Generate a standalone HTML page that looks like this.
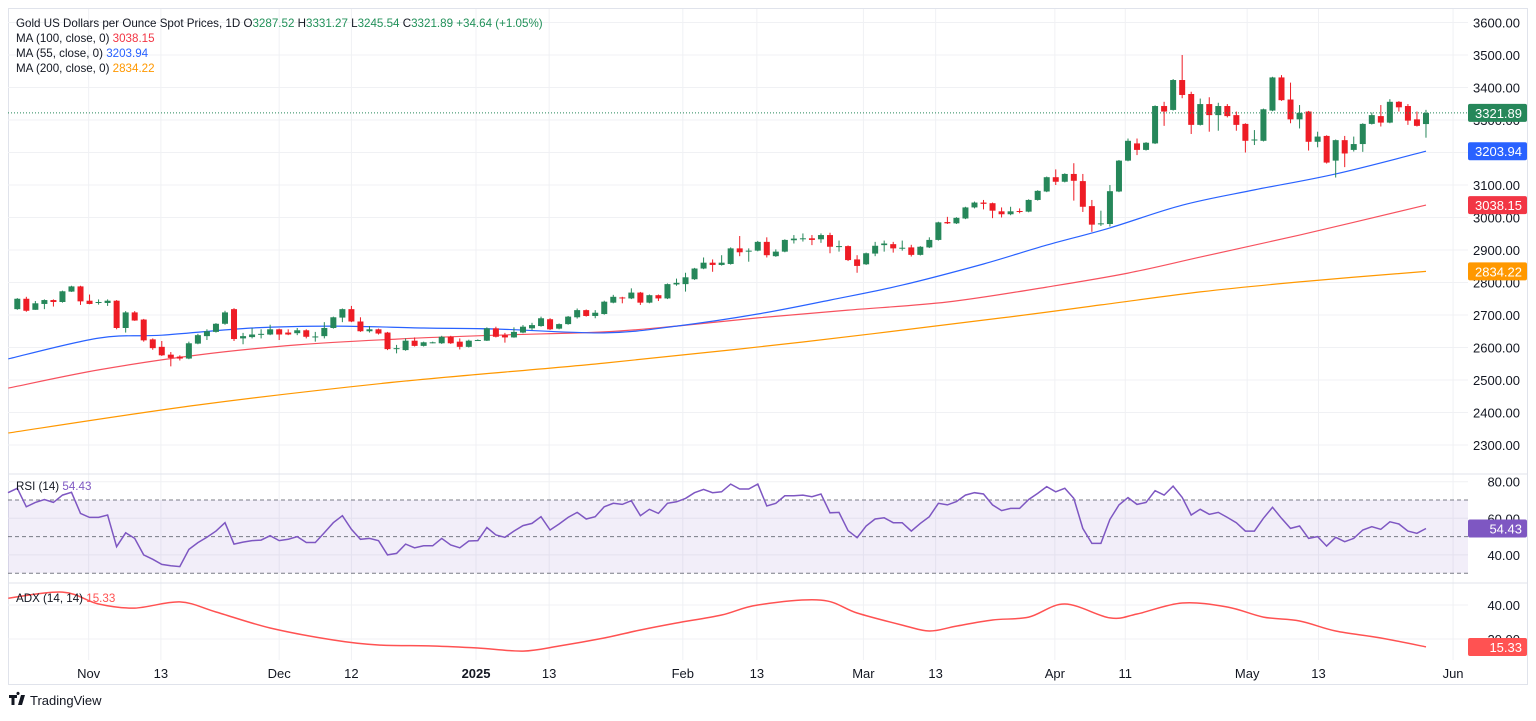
<!DOCTYPE html>
<html><head><meta charset="utf-8">
<style>
html,body{margin:0;padding:0;background:#fff;}
body{width:1536px;height:716px;overflow:hidden;font-family:"Liberation Sans",sans-serif;}
svg text{font-family:"Liberation Sans",sans-serif;}
</style></head>
<body>
<svg id="c" width="1536" height="716" xmlns="http://www.w3.org/2000/svg"></svg>
<script>
// ---- data ----
const opens=[2718,2750,2716,2734,2746,2740,2772,2788,2744,2739,2737,2744,2660,2708,2686,2625,2602,2578,2572,2566,2612,2635,2648,2673,2718,2628,2632,2640,2640,2656,2646,2644,2653,2632,2635,2660,2692,2718,2680,2650,2656,2646,2595,2592,2621,2605,2615,2613,2633,2618,2602,2621,2621,2659,2638,2631,2646,2659,2666,2687,2658,2672,2693,2715,2697,2703,2738,2754,2751,2769,2738,2761,2751,2794,2795,2810,2843,2861,2854,2857,2905,2896,2898,2925,2881,2895,2930,2933,2936,2933,2946,2910,2912,2871,2856,2889,2915,2918,2905,2908,2885,2908,2931,2986,2982,2997,3031,3046,3044,3019,3010,3020,3018,3054,3080,3124,3110,3134,3112,3035,2980,2980,3080,3175,3228,3208,3228,3343,3331,3423,3380,3285,3349,3315,3343,3315,3288,3238,3236,3329,3431,3363,3302,3326,3233,3251,3175,3238,3208,3226,3288,3312,3292,3356,3343,3302,3287.52];
const highs=[2752,2756,2743,2748,2748,2775,2790,2790,2763,2748,2748,2746,2712,2712,2688,2628,2620,2586,2576,2618,2642,2656,2675,2713,2721,2645,2660,2656,2670,2658,2656,2660,2656,2648,2678,2695,2720,2728,2693,2666,2658,2648,2608,2628,2631,2618,2618,2636,2636,2628,2624,2625,2662,2664,2645,2662,2669,2676,2695,2690,2674,2697,2720,2717,2715,2744,2762,2756,2782,2771,2763,2763,2797,2812,2830,2845,2877,2871,2884,2908,2943,2905,2928,2939,2902,2933,2946,2951,2946,2951,2953,2929,2914,2884,2892,2925,2929,2925,2929,2916,2912,2939,2987,3002,3001,3033,3049,3054,3046,3031,3033,3028,3056,3084,3126,3148,3136,3167,3134,3054,3021,3100,3177,3243,3243,3232,3345,3356,3426,3500,3387,3366,3370,3353,3349,3326,3290,3269,3335,3433,3438,3415,3346,3328,3264,3253,3240,3251,3249,3290,3323,3346,3364,3358,3349,3326,3331.27];
const lows=[2716,2710,2716,2718,2726,2738,2771,2731,2733,2732,2728,2656,2646,2682,2618,2593,2574,2542,2560,2564,2610,2623,2646,2670,2620,2610,2628,2628,2638,2623,2638,2638,2628,2618,2628,2658,2678,2678,2648,2646,2640,2592,2582,2590,2603,2603,2613,2611,2611,2594,2600,2620,2620,2631,2615,2630,2644,2654,2664,2654,2656,2670,2689,2695,2690,2701,2736,2736,2749,2731,2736,2743,2749,2790,2772,2808,2841,2833,2852,2855,2881,2864,2896,2877,2879,2893,2920,2926,2915,2922,2890,2895,2866,2830,2854,2881,2895,2892,2898,2880,2883,2906,2929,2980,2980,2995,3028,3025,2998,3000,3007,3013,3016,3052,3078,3100,3108,3052,3017,2956,2974,2972,3078,3173,3192,3206,3226,3282,3329,3367,3257,3283,3264,3267,3308,3267,3200,3223,3234,3327,3359,3290,3274,3206,3216,3166,3123,3155,3203,3202,3286,3280,3290,3326,3285,3280,3245.54];
const closes=[2750,2713,2736,2746,2740,2773,2788,2742,2734,2740,2744,2660,2708,2683,2622,2598,2576,2568,2566,2613,2638,2650,2673,2708,2626,2635,2640,2642,2656,2640,2640,2653,2633,2634,2660,2693,2718,2680,2650,2656,2643,2595,2598,2621,2605,2616,2616,2633,2613,2602,2621,2623,2659,2633,2631,2648,2664,2669,2690,2656,2672,2695,2715,2697,2707,2741,2756,2751,2769,2738,2761,2751,2795,2799,2816,2843,2861,2854,2861,2905,2893,2898,2925,2884,2895,2931,2935,2936,2931,2946,2910,2912,2869,2851,2890,2913,2920,2905,2907,2885,2910,2931,2985,2982,2999,3031,3046,3042,3021,3010,3019,3017,3054,3082,3124,3110,3134,3113,3033,2978,2982,3081,3175,3236,3208,3230,3343,3326,3423,3377,3285,3349,3315,3343,3312,3285,3236,3240,3333,3431,3361,3302,3322,3233,3249,3169,3238,3197,3226,3288,3315,3292,3356,3339,3298,3282,3321.89];
const ma55Idx=[-1,9,16,26,35,45,53,65,73,82,90,98,107,114,121,129,137,146,156];
const ma55Val=[2565,2629,2638,2660,2666,2660,2657,2645,2666,2703,2746,2792,2857,2915,2968,3038,3085,3134,3203.94];
const ma100Idx=[-1,9,20,31,42,53,65,73,82,92,103,114,123,131,142,156];
const ma100Val=[2475,2531,2577,2608,2626,2638,2648,2666,2691,2715,2740,2786,2829,2878,2946,3038.15];
const ma200Idx=[-1,20,42,65,87,109,120,131,142,156];
const ma200Val=[2337,2423,2494,2552,2617,2691,2731,2771,2802,2834.22];
const rsiVals=[76.4,66.3,68.7,70.3,68.7,72.7,74.2,62.7,60.5,60.5,61.8,44.5,52.1,49,40,37.6,34.8,34.1,33.6,43,46.7,49.6,53,57.6,45.9,47,47.8,48.1,50.5,47.8,48.5,50,46.8,46.8,52.1,57.6,61.4,54,48.5,49,47.8,40,40.8,45.9,43.9,45,45,49,45.4,43.9,47.6,47.8,55,50.9,49.6,53,56,57.2,60.9,53.6,56.9,60.5,63.2,59.6,60.9,66.3,68.2,67.6,69.6,61.4,64.9,62.7,68.2,69,70.9,74,75.8,74,74.5,78.7,76,76,78.7,66.7,68.2,72.3,72.3,72.7,71.8,73.3,63,63.2,53.2,49.4,55.8,59.6,60.3,57.6,57.6,53,57.2,60.9,68.2,67.3,69.1,72.7,74,73.3,67.3,64.2,65.4,65.4,70.3,73.6,77.3,74.5,76.4,70.9,54.5,46.3,46.3,59.4,67.3,71.3,67.6,68.7,75.1,72.7,77.6,71.4,61.8,64.9,62.2,63.2,60.5,57.6,53,53,60,66,60,54.5,55.8,49,50,44.8,49.6,47.2,49,53.6,55.4,54,58.1,56.9,53,51.8,54.43];
const adxIdx=[-1,5,9,13,18,22,28,35,40,46,51,56,60,65,69,73,78,82,89,93,98,101,104,108,112,116,121,124,129,134,138,142,146,151,156];
const adxVal=[44,47.6,40.6,38.2,41.8,35.9,26.5,19.4,16.5,15.9,14.7,12.9,15.9,20.6,25.3,29.4,34.1,40,42.9,35.3,28.2,24.7,27.6,31.2,32.9,40.6,32.4,34.7,41.2,38.8,32.9,30.6,24.7,20.6,15.33];
const priceTicks=[3600,3500,3400,3300,3200,3100,3000,2900,2800,2700,2600,2500,2400,2300];
const rsiTicks=[80,60,40];
const adxTicks=[40,20];
const dateLabels=["Nov","13","Dec","12","2025","13","Feb","13","Mar","13","Apr","11","May","13","Jun"];
const dateIdx=[7.9,15.9,29.0,37.0,50.8,58.9,73.7,81.9,93.7,101.7,114.9,122.7,136.2,144.1,159];

// ---- scales ----
const X0=17.3, DX=9.03, LEFT=8, PLOT_R=1468;
const px=i=>X0+i*DX;
const py=p=>55+(3500-p)*0.325;
const ry=v=>481.7+(80-v)*1.83;
const ay=v=>639+(20-v)*1.7;
const svg=document.getElementById('c');
const NS='http://www.w3.org/2000/svg';
function mk(tag,attrs,parent){const e=document.createElementNS(NS,tag);for(const k in attrs)e.setAttribute(k,attrs[k]);(parent||svg).appendChild(e);return e;}
const UP='#26875a', DN='#ee1c25';
function smooth(pts){let d='M'+pts[0][0].toFixed(1)+','+pts[0][1].toFixed(1);
for(let k=0;k<pts.length-1;k++){const p0=pts[Math.max(0,k-1)],p1=pts[k],p2=pts[k+1],p3=pts[Math.min(pts.length-1,k+2)];
const c1x=p1[0]+(p2[0]-p0[0])/6,c1y=p1[1]+(p2[1]-p0[1])/6,c2x=p2[0]-(p3[0]-p1[0])/6,c2y=p2[1]-(p3[1]-p1[1])/6;
d+='C'+c1x.toFixed(1)+','+c1y.toFixed(1)+' '+c2x.toFixed(1)+','+c2y.toFixed(1)+' '+p2[0].toFixed(1)+','+p2[1].toFixed(1);}
return d;}

// frame
let fr=mk('rect',{x:8.5,y:8.5,width:1519,height:676,fill:'none',stroke:'#e0e3eb'});



// grids
const grid=mk('g',{stroke:'#f0f1f4','stroke-width':1});


priceTicks.forEach(t=>{mk('line',{x1:LEFT,x2:PLOT_R,y1:py(t),y2:py(t)},grid);});
rsiTicks.forEach(t=>{mk('line',{x1:LEFT,x2:PLOT_R,y1:ry(t),y2:ry(t)},grid);});
adxTicks.forEach(t=>{mk('line',{x1:LEFT,x2:PLOT_R,y1:ay(t),y2:ay(t)},grid);});
dateIdx.forEach(i=>{mk('line',{x1:px(i),x2:px(i),y1:9,y2:660},grid);});
[474,583].forEach(y=>{const l=mk('line',{x1:8,x2:1527,y1:y,y2:y,stroke:'#e0e3eb'});

});

// price axis labels
priceTicks.forEach(t=>{const tx=mk('text',{x:1520,y:py(t)+5,'text-anchor':'end','font-size':13,fill:'#131722'});tx.textContent=t.toFixed(2);

});

// MA lines
function line(idx,val,color,name){const pts=idx.map((i,k)=>[Math.max(LEFT,px(i)),py(val[k])]);
const p=mk('path',{d:smooth(pts),fill:'none',stroke:color,'stroke-width':1.2});

}
line(ma200Idx,ma200Val,'#ff9800','ma-200-line');
line(ma100Idx,ma100Val,'#f7525f','ma-100-line');
line(ma55Idx,ma55Val,'#2962ff','ma-55-line');

// candles
const cg=mk('g',{});


closes.forEach((c,i)=>{const o=opens[i],up=c>=o,col=up?UP:DN,x=px(i);
const g=mk('g',{},cg);


mk('line',{x1:x,x2:x,y1:py(highs[i]),y2:py(lows[i]),stroke:col,'stroke-width':1},g);
const top=py(Math.max(o,c)),bot=py(Math.min(o,c));
mk('rect',{x:x-3,y:top,width:6,height:Math.max(1,bot-top),fill:col},g);});

// last price dotted line
const lastY=py(closes[closes.length-1]);
const dl=mk('line',{x1:LEFT,x2:PLOT_R,y1:lastY,y2:lastY,stroke:UP,'stroke-dasharray':'1,2','stroke-width':1});



// badges
function badge(y,txt,col,name){const g=mk('g',{});


mk('rect',{x:1468,y:y-9,width:59,height:18,rx:2,fill:col},g);
const t=mk('text',{x:1522,y:y+5,'text-anchor':'end','font-size':13,fill:'#fff'},g);t.textContent=txt;}
badge(lastY,'3321.89',UP,'last-price-badge');
badge(py(ma55Val[ma55Val.length-1]),'3203.94','#2962ff','ma-55-badge');
badge(py(ma100Val[ma100Val.length-1]),'3038.15','#f23645','ma-100-badge');
badge(py(ma200Val[ma200Val.length-1]),'2834.22','#ff9800','ma-200-badge');

// RSI pane
const rb=mk('rect',{x:LEFT,y:ry(70),width:PLOT_R-LEFT,height:ry(30)-ry(70),fill:'rgba(126,87,194,0.1)'});


[70,50,30].forEach(v=>{const l=mk('line',{x1:LEFT,x2:PLOT_R,y1:ry(v),y2:ry(v),stroke:'#787b86','stroke-dasharray':'4,3','stroke-width':1});

});
const rd=rsiVals.map((v,i)=>(i?'L':'M')+px(i).toFixed(1)+','+ry(v).toFixed(1)).join('');
const rp=mk('path',{d:'M'+LEFT+','+ry(74).toFixed(1)+'L'+rd.slice(1),fill:'none',stroke:'#7e57c2','stroke-width':1.5});


rsiTicks.forEach(t=>{const tx=mk('text',{x:1520,y:ry(t)+5,'text-anchor':'end','font-size':13,fill:'#131722'});tx.textContent=t.toFixed(2);

});
badge(ry(rsiVals[rsiVals.length-1]),'54.43','#7e57c2','rsi-badge');

// ADX pane
const apts=adxIdx.map((i,k)=>[Math.max(LEFT,px(i)),ay(adxVal[k])]);
const apth=mk('path',{d:smooth(apts),fill:'none',stroke:'#ff5252','stroke-width':1.5,'stroke-linejoin':'round'});


adxTicks.forEach(t=>{const tx=mk('text',{x:1520,y:ay(t)+5,'text-anchor':'end','font-size':13,fill:'#131722'});tx.textContent=t.toFixed(2);

});
badge(ay(adxVal[adxVal.length-1]),'15.33','#ff5252','adx-badge');

// date labels
dateLabels.forEach((d,k)=>{const tx=mk('text',{x:px(dateIdx[k]),y:678,'text-anchor':'middle','font-size':13,fill:'#131722','font-weight':d==='2025'?'bold':'normal'});tx.textContent=d;

});

// legends
function txt(x,y,parts,name,size){const t=mk('text',{x:x,y:y,'font-size':size||11.6,fill:'#131722'});


parts.forEach(p=>{const s=mk('tspan',{fill:p[1]},t);s.textContent=p[0];});return t;}
txt(16,27,[['Gold US Dollars per Ounce Spot Prices, 1D  O','#131722'],['3287.52','#22915a'],['  H','#131722'],['3331.27','#22915a'],['  L','#131722'],['3245.54','#22915a'],['  C','#131722'],['3321.89','#22915a'],['  +34.64 (+1.05%)','#22915a']],'main-legend');
txt(16,42,[['MA (100, close, 0)  ','#131722'],['3038.15','#f23645']],'ma-100-legend');
txt(16,57,[['MA (55, close, 0)  ','#131722'],['3203.94','#2962ff']],'ma-55-legend');
txt(16,72,[['MA (200, close, 0)  ','#131722'],['2834.22','#ff9800']],'ma-200-legend');
txt(16,490,[['RSI (14)  ','#131722'],['54.43','#7e57c2']],'rsi-legend');
txt(16,602,[['ADX (14, 14)  ','#131722'],['15.33','#ff5252']],'adx-legend');

// logo
const lg=mk('g',{});


mk('path',{d:'M9,695h8v3h-2.5v7h-3v-7h-2.5z M18,695a1.6,1.6 0 1 1 0.01,0z M21,695h4l-3,10h-4z',fill:'#131722'},lg);
const lt=mk('text',{x:30,y:705,'font-size':13,fill:'#131722'},lg);lt.textContent='TradingView';
</script>
</body></html>
